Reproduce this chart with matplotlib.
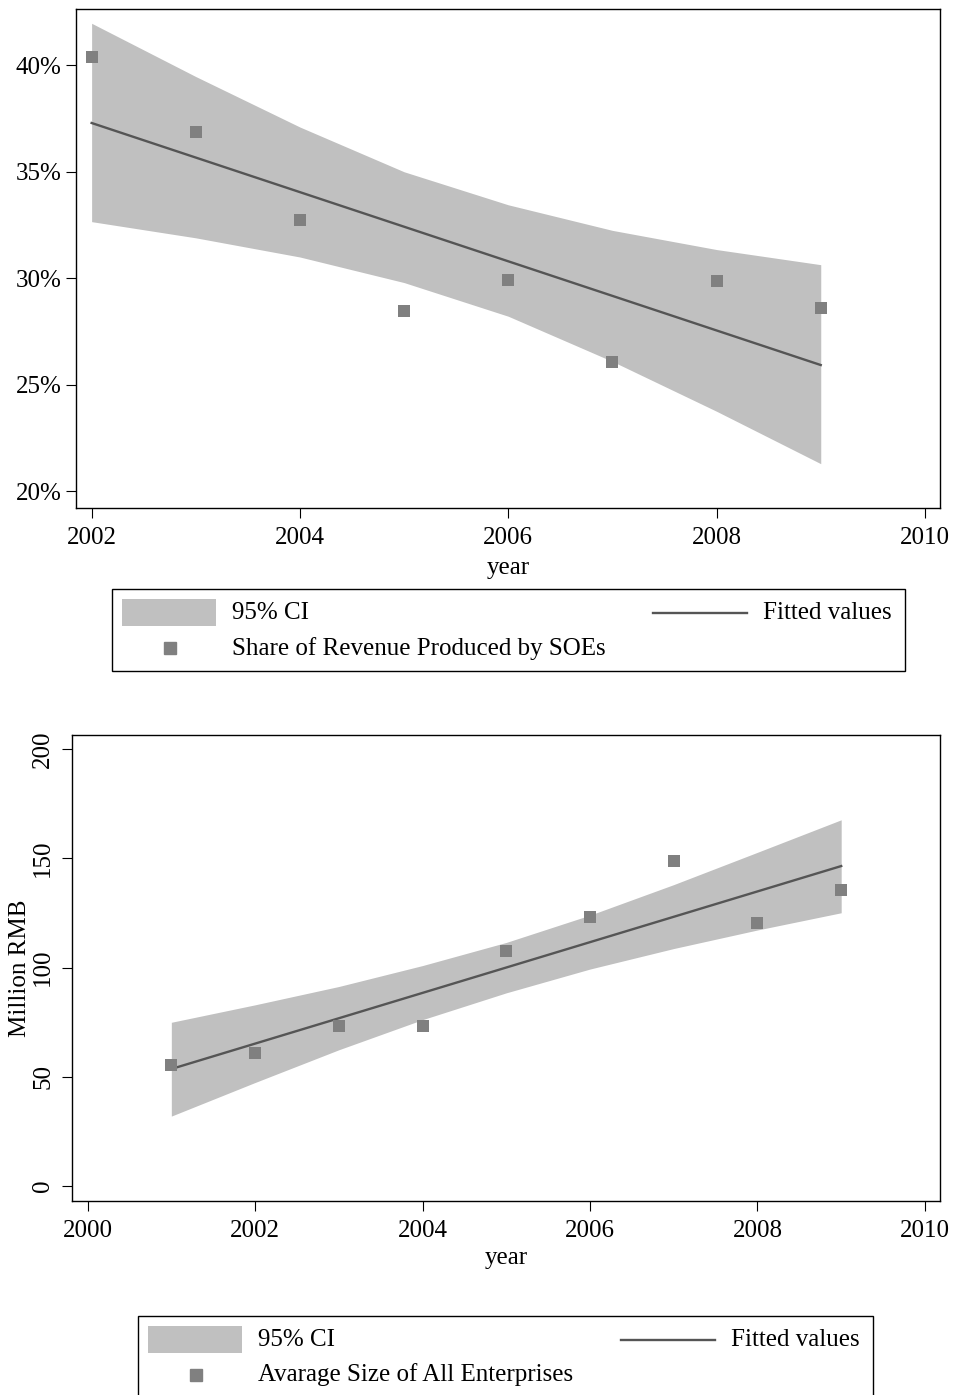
import numpy as np
import matplotlib.pyplot as plt
from matplotlib.patches import Rectangle
from matplotlib.lines import Line2D
from matplotlib.ticker import FuncFormatter

plt.rcParams['font.family'] = ['Liberation Serif', 'DejaVu Serif']

# top panel: share of revenue produced by SOEs (%)
years_top = [2002, 2003, 2004, 2005, 2006, 2007, 2008, 2009]
share_soe = [40.40, 36.87, 32.74, 28.48, 29.92, 26.06, 29.87, 28.62]
fit_top = [37.29, 25.93]           # fitted values at 2002 and 2009
ci_top_hi = [41.97, 39.47, 37.10, 35.00, 33.45, 32.25, 31.35, 30.64]
ci_top_lo = [32.66, 31.90, 31.00, 29.80, 28.22, 26.10, 23.76, 21.30]

# bottom panel: average size of all enterprises (million RMB)
years_bot = [2001, 2002, 2003, 2004, 2005, 2006, 2007, 2008, 2009]
avg_size = [55.3, 61.0, 73.3, 73.3, 107.7, 123.1, 148.8, 120.3, 135.4]
fit_bot = [53.5, 146.5]            # fitted values at 2001 and 2009
ci_bot_hi = [74.9, 82.9, 91.3, 100.9, 111.5, 124.0, 138.0, 152.8, 167.7]
ci_bot_lo = [31.9, 47.3, 62.3, 76.1, 88.4, 99.3, 108.7, 117.2, 125.1]

W, H = 955, 1395
BAND = '#c0c0c0'
MARK = '#808080'
LINE = '#555555'
FS = 18

fig = plt.figure(figsize=(W / 100, H / 100), dpi=100)


def px_axes(l, t, r, b):
    return fig.add_axes([l / W, 1 - b / H, (r - l) / W, (b - t) / H])


def style(ax):
    for s in ax.spines.values():
        s.set_linewidth(1.0)
        s.set_color('black')
    ax.tick_params(direction='out', length=7.5, width=0.8, labelsize=FS, color='black')
    ax.tick_params(axis='x', pad=6)


def draw(ax, x, y, xf, yf, lo, hi):
    ax.fill_between(x, lo, hi, color=BAND, lw=0, zorder=1)
    ax.plot(xf, yf, color=LINE, lw=1.7, zorder=2)
    ax.scatter(x, y, marker='s', s=75, color=MARK, lw=0, zorder=3)


def legend(l, t, r, b, label):
    fig.patches.append(Rectangle((l / W, 1 - b / H), (r - l) / W, (b - t) / H,
                                 transform=fig.transFigure, fill=False,
                                 edgecolor='black', lw=1.0))
    fig.patches.append(Rectangle(((l + 10) / W, 1 - (t + 37) / H), 94 / W, 27 / H,
                                 transform=fig.transFigure, color=BAND, lw=0))
    fig.text((l + 120) / W, 1 - (t + 24) / H, '95% CI', fontsize=FS, va='center')
    fig.lines.append(Line2D([(r - 252) / W, (r - 158) / W], [1 - (t + 24) / H] * 2,
                            transform=fig.transFigure, color=LINE, lw=1.7))
    fig.text((r - 142) / W, 1 - (t + 24) / H, 'Fitted values', fontsize=FS, va='center')
    fig.lines.append(Line2D([(l + 58) / W], [1 - (t + 59) / H], transform=fig.transFigure,
                            marker='s', ms=9, color=MARK, lw=0))
    fig.text((l + 120) / W, 1 - (t + 59) / H, label, fontsize=FS, va='center')


# ---- top
ax1 = px_axes(76, 9, 940, 508)
draw(ax1, years_top, share_soe, [years_top[0], years_top[-1]], fit_top, ci_top_lo, ci_top_hi)
ax1.set_xlim(2001.85, 2010.145)
ax1.set_ylim(19.22, 42.64)
ax1.set_xticks([2002, 2004, 2006, 2008, 2010])
ax1.set_yticks([20, 25, 30, 35, 40])
ax1.yaxis.set_major_formatter(FuncFormatter(lambda v, p: f'{v:.0f}%'))
style(ax1)
ax1.tick_params(axis='y', pad=3)
ax1.set_xlabel('year', fontsize=FS, labelpad=6)
legend(111.7, 589.3, 905, 670.7, 'Share of Revenue Produced by SOEs')

# ---- bottom
ax2 = px_axes(71.7, 734.7, 940, 1201)
draw(ax2, years_bot, avg_size, [years_bot[0], years_bot[-1]], fit_bot, ci_bot_lo, ci_bot_hi)
ax2.set_xlim(1999.81, 2010.18)
ax2.set_ylim(-7.0, 206.7)
ax2.set_xticks([2000, 2002, 2004, 2006, 2008, 2010])
ax2.set_yticks([0, 50, 100, 150, 200])
style(ax2)
ax2.tick_params(axis='y', pad=5)
for t in ax2.get_yticklabels():
    t.set_rotation(90)
    t.set_va('center')
ax2.set_xlabel('year', fontsize=FS, labelpad=4)
ax2.set_ylabel('Million RMB', fontsize=FS, labelpad=1)
legend(138.3, 1316, 873.3, 1400, 'Avarage Size of All Enterprises')

fig.savefig('out.png', dpi=100)
